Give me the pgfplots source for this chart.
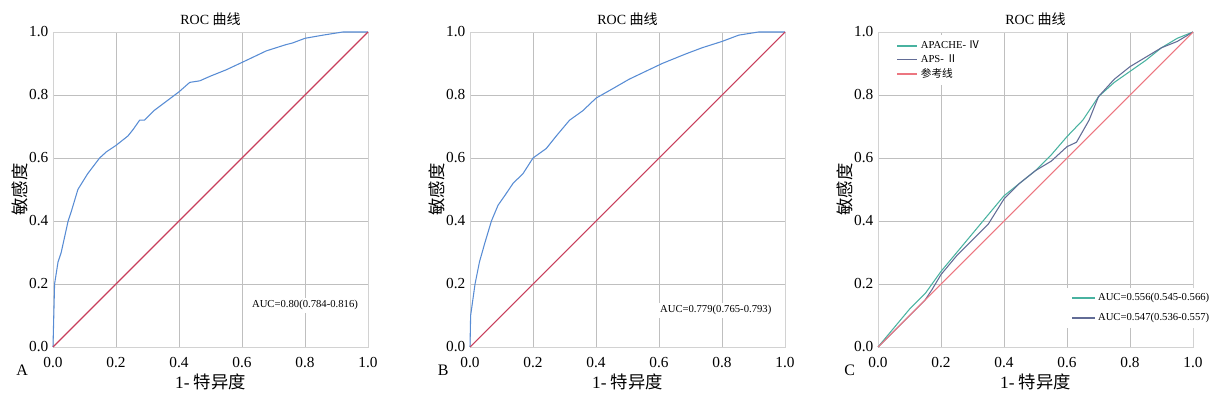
\documentclass[border=0pt]{standalone}
\usepackage{fontspec}
\setmainfont{Liberation Serif}
\newfontfamily\cjk{Noto Sans CJK SC}
\usepackage{pgfplots}
\pgfplotsset{compat=1.18}
\definecolor{rocblue}{RGB}{88,140,212}
\definecolor{rocred}{RGB}{200,62,92}
\definecolor{cteal}{RGB}{72,178,160}
\definecolor{cslate}{RGB}{98,108,150}
\definecolor{cpink}{RGB}{236,118,128}
\pgfplotsset{
  rocax/.style={
    scale only axis, width=236.25pt, height=236.25pt,
    xmin=0, xmax=1, ymin=0, ymax=1,
    xtick={0,0.2,0.4,0.6,0.8,1}, ytick={0,0.2,0.4,0.6,0.8,1},
    grid=major, grid style={gray!50, line width=0.5pt},
    axis line style={gray!35, line width=0.6pt},
    tick style={draw=none},
    /pgf/number format/assume math mode=true,
    xticklabel style={/pgf/number format/fixed, /pgf/number format/fixed zerofill, /pgf/number format/precision=1, yshift=-4pt},
    yticklabel style={/pgf/number format/fixed, /pgf/number format/fixed zerofill, /pgf/number format/precision=1},
    ticklabel style={font=\fontsize{11.5}{12}\selectfont},
    title={ROC {\cjk 曲线}},
    title style={font=\fontsize{10.5}{11}\selectfont, yshift=-5pt},
    xlabel={1- {\cjk 特异度}},
    xlabel style={font=\fontsize{13}{14}\selectfont, yshift=2pt},
    ylabel={{\cjk 敏感度}},
    ylabel style={font=\fontsize{13}{14}\selectfont, yshift=-6pt},
    clip=false,
  }
}
\begin{document}
\begin{tikzpicture}
\useasboundingbox (0,0) rectangle (914.25pt,296.25pt);
% Panel A
\begin{axis}[rocax, at={(39.75pt,36pt)}, anchor=south west]
\addplot[rocblue, line width=0.8pt] coordinates {
(0,0) (0.002,0.08) (0.005,0.2) (0.016,0.27) (0.026,0.3) (0.037,0.35) (0.048,0.4) (0.058,0.43)
(0.079,0.5) (0.11,0.55) (0.148,0.6) (0.17,0.62) (0.2,0.64) (0.238,0.67) (0.254,0.69) (0.275,0.72)
(0.29,0.72) (0.32,0.75) (0.36,0.78) (0.40,0.81) (0.434,0.84) (0.466,0.845) (0.50,0.86) (0.55,0.88)
(0.614,0.91) (0.677,0.94) (0.74,0.96) (0.76,0.965) (0.80,0.98) (0.857,0.99) (0.92,1.0) (1,1)};
\addplot[rocred, line width=0.8pt] coordinates {(0,0) (1,1)};
\node[fill=white, inner sep=2pt, font=\fontsize{8}{8}\selectfont] at (axis cs:0.80,0.133) {AUC=0.80(0.784-0.816)};
\node[font=\fontsize{12}{12}\selectfont] at (rel axis cs:-0.098,-0.073) {A};
\end{axis}
% Panel B
\begin{axis}[rocax, at={(352.5pt,36pt)}, anchor=south west]
\addplot[rocblue, line width=0.8pt] coordinates {
(0,0) (0.002,0.1) (0.016,0.2) (0.03,0.27) (0.047,0.33) (0.068,0.4) (0.089,0.45) (0.11,0.48)
(0.137,0.52) (0.168,0.55) (0.2,0.6) (0.242,0.63) (0.274,0.67) (0.316,0.72) (0.358,0.75) (0.4,0.79)
(0.453,0.82) (0.505,0.85) (0.568,0.88) (0.61,0.9) (0.684,0.93) (0.737,0.95) (0.8,0.97) (0.853,0.99)
(0.916,1.0) (1,1)};
\addplot[rocred, line width=0.8pt] coordinates {(0,0) (1,1)};
\node[fill=white, inner sep=2pt, font=\fontsize{8}{8}\selectfont] at (axis cs:0.78,0.117) {AUC=0.779(0.765-0.793)};
\node[font=\fontsize{12}{12}\selectfont] at (rel axis cs:-0.085,-0.073) {B};
\end{axis}
% Panel C
\begin{axis}[rocax, at={(658.5pt,36pt)}, anchor=south west,
  legend style={at={(axis cs:0.045,0.99)}, anchor=north west, draw=none, fill=white,
    font=\fontsize{8}{9}\selectfont, row sep=-1pt},
  legend cell align=left,
  legend image code/.code={\draw[#1, line width=1.3pt] (0pt,0pt) -- (15pt,0pt);}]
\addplot[cteal, line width=0.8pt] coordinates {
(0,0) (0.05,0.06) (0.1,0.12) (0.15,0.17) (0.2,0.24) (0.25,0.3) (0.3,0.36) (0.35,0.42) (0.4,0.48)
(0.45,0.52) (0.5,0.56) (0.55,0.61) (0.6,0.668) (0.65,0.72) (0.7,0.795) (0.75,0.84) (0.8,0.875)
(0.85,0.91) (0.9,0.95) (0.95,0.98) (1,1)};
\addlegendentry{APACHE- {\cjk Ⅳ}}
\addplot[cslate, line width=0.8pt] coordinates {
(0,0) (0.05,0.05) (0.1,0.1) (0.15,0.15) (0.17,0.18) (0.2,0.23) (0.25,0.29) (0.3,0.34) (0.35,0.39)
(0.4,0.47) (0.45,0.52) (0.5,0.56) (0.55,0.59) (0.6,0.636) (0.63,0.65) (0.67,0.72) (0.7,0.795)
(0.75,0.85) (0.8,0.89) (0.85,0.92) (0.9,0.95) (0.95,0.97) (1,1)};
\addlegendentry{APS- {\cjk Ⅱ}}
\addplot[cpink, line width=0.8pt] coordinates {(0,0) (1,1)};
\addlegendentry{{\cjk 参考线}}
\node[font=\fontsize{12}{12}\selectfont] at (rel axis cs:-0.09,-0.073) {C};
\end{axis}
\begin{axis}[scale only axis, width=236.25pt, height=236.25pt, at={(658.5pt,36pt)}, anchor=south west,
  xmin=0, xmax=1, ymin=0, ymax=1, hide axis,
  legend style={at={(axis cs:0.6,0.188)}, anchor=north west, draw=none, fill=white,
    font=\fontsize{8}{9}\selectfont, row sep=4pt},
  legend cell align=left,
  legend image code/.code={\draw[#1] (0pt,0pt) -- (17pt,0pt);}]
\addlegendimage{cteal, line width=1.1pt}
\addlegendentry{AUC=0.556(0.545-0.566)}
\addlegendimage{cslate, line width=1.1pt}
\addlegendentry{AUC=0.547(0.536-0.557)}
\end{axis}
\end{tikzpicture}
\end{document}
